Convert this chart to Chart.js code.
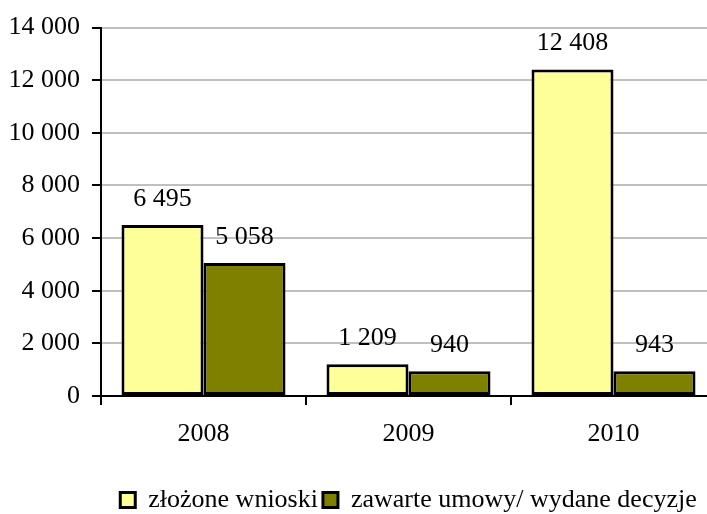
<!DOCTYPE html>
<html>
<head>
<meta charset="utf-8">
<script src="https://cdn.jsdelivr.net/npm/chart.js@4/dist/chart.umd.min.js"></script>
<style>
  html, body { margin: 0; padding: 0; background: #fff; overflow: hidden; }
  #wrap { width: 720px; height: 514px; }
</style>
</head>
<body>
<div id="wrap"><canvas id="barChart" width="720" height="514"></canvas></div>
<script>
// data
const years = ['2008', '2009', '2010'];
const wnioski = [6495, 1209, 12408];
const umowy = [5058, 940, 943];
const seriesNames = ['złożone wnioski', 'zawarte umowy/ wydane decyzje'];

const FONT = 'Liberation Serif, "Times New Roman", serif';

// thousands with a space, like "12 408"
const fmt = v => String(v).replace(/\B(?=(\d{3})+(?!\d))/g, ' ');

// value labels above each bar
const valueLabels = {
  id: 'valueLabels',
  afterDatasetsDraw(chart) {
    const ctx = chart.ctx;
    ctx.save();
    ctx.font = '26px ' + FONT;
    ctx.fillStyle = '#000';
    ctx.textAlign = 'center';
    ctx.textBaseline = 'alphabetic';
    chart.data.datasets.forEach((ds, i) => {
      chart.getDatasetMeta(i).data.forEach((bar, j) => {
        ctx.fillText(fmt(ds.data[j]), bar.x, bar.y - 19);
      });
    });
    ctx.restore();
  }
};

const ctx = document.getElementById('barChart');
new Chart(ctx, {
  type: 'bar',
  data: {
    labels: years,
    datasets: [
      {
        label: seriesNames[0],
        data: wnioski,
        backgroundColor: '#FFFF99',
        borderColor: '#000',
        borderWidth: 3,
        borderSkipped: false
      },
      {
        label: seriesNames[1],
        data: umowy,
        backgroundColor: '#808000',
        borderColor: '#000',
        borderWidth: 3,
        borderSkipped: false
      }
    ]
  },
  options: {
    responsive: false,
    animation: false,
    layout: { padding: { left: 0, right: 4, top: 27, bottom: -9 } },
    datasets: { bar: { categoryPercentage: 0.8, barPercentage: 1.0 } },
    scales: {
      x: {
        afterFit: s => { s.height = 86; },
        grid: {
          offset: true,
          drawOnChartArea: false,
          color: '#000',
          lineWidth: 2,
          tickLength: 9
        },
        border: { color: '#000', width: 2 },
        ticks: { color: '#000', padding: 14, font: { family: FONT, size: 26 } }
      },
      y: {
        min: 0,
        max: 14000,
        afterFit: s => { s.width = 101; },
        ticks: {
          stepSize: 2000,
          color: '#000',
          padding: 12,
          font: { family: FONT, size: 26 },
          callback: v => fmt(v)
        },
        grid: { color: '#C0C0C0', lineWidth: 2, tickColor: '#000', tickLength: 9 },
        border: { color: '#000', width: 2 }
      }
    },
    plugins: {
      legend: {
        position: 'bottom',
        fullSize: false,
        labels: {
          color: '#000',
          boxWidth: 15,
          boxHeight: 15,
          padding: 5,
          font: { family: FONT, size: 26 }
        }
      },
      tooltip: { enabled: false }
    }
  },
  plugins: [valueLabels]
});
</script>
</body>
</html>
